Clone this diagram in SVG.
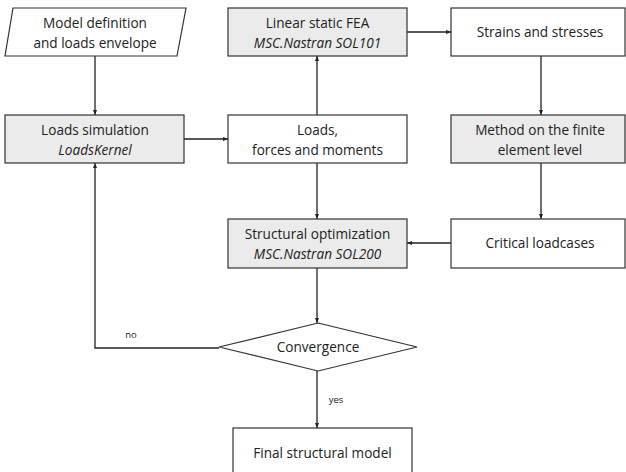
<svg xmlns="http://www.w3.org/2000/svg" width="626" height="472" viewBox="0 0 626 472">
<style>
.box{stroke:#333;stroke-width:1.2;fill:#fff}
.g{fill:#ebebeb}
text{font-family:"Open Sans","Noto Sans",sans-serif;font-size:13.6px;fill:#222;text-anchor:middle}
.i{font-style:italic}
.s{font-size:9.5px}
.c{stroke:#222;stroke-width:1.3;fill:none;marker-end:url(#ah)}
</style>
<defs>
<marker id="ah" viewBox="0 0 10 10" refX="10" refY="5" markerWidth="5" markerHeight="5" orient="auto" markerUnits="userSpaceOnUse">
<path d="M0,1 L10,5 L0,9 z" fill="#222"/>
</marker>
</defs>
<rect width="626" height="472" fill="#fff"/>
<g id="connectors">
<path class="c" d="M95,56 V115"/>
<path class="c" d="M184,139 H228"/>
<path class="c" d="M317,115 V56"/>
<path class="c" d="M407,32 H451"/>
<path class="c" d="M541,56 V115"/>
<path class="c" d="M541,163 V219"/>
<path class="c" d="M451,243 H407"/>
<path class="c" d="M317,163 V219"/>
<path class="c" d="M317,268 V323"/>
<path class="c" d="M219,348 H95 V163"/>
<path class="c" d="M317,371 V428"/>
<text class="s" x="131" y="338">no</text>
<text class="s" x="336" y="403">yes</text>
</g>
<g id="model-definition">
<polygon class="box" points="13,8 186,8 177,56 5,56"/>
<text x="95" y="28">Model definition</text>
<text x="95" y="48">and loads envelope</text>
</g>
<g id="linear-static">
<rect class="box g" x="228" y="8" width="179" height="48"/>
<text x="317.5" y="28">Linear static FEA</text>
<text class="i" x="317.5" y="48">MSC.Nastran SOL101</text>
</g>
<g id="strains">
<rect class="box" x="451" y="8" width="174" height="48"/>
<text x="540" y="37">Strains and stresses</text>
</g>
<g id="loads-simulation">
<rect class="box g" x="5" y="115" width="179" height="48"/>
<text x="95" y="135">Loads simulation</text>
<text class="i" x="95" y="155">LoadsKernel</text>
</g>
<g id="loads">
<rect class="box" x="228" y="115" width="179" height="48"/>
<text x="317.5" y="135">Loads,</text>
<text x="317.5" y="155">forces and moments</text>
</g>
<g id="method">
<rect class="box g" x="451" y="115" width="174" height="48"/>
<text x="540" y="135">Method on the finite</text>
<text x="540" y="155">element level</text>
</g>
<g id="structural-optimization">
<rect class="box g" x="228" y="219" width="179" height="49"/>
<text x="317.5" y="239">Structural optimization</text>
<text class="i" x="317.5" y="259">MSC.Nastran SOL200</text>
</g>
<g id="critical">
<rect class="box" x="451" y="219" width="174" height="49"/>
<text x="540" y="248">Critical loadcases</text>
</g>
<g id="convergence">
<polygon class="box" points="318,323 417,347 318,371 219,347"/>
<text x="318" y="352">Convergence</text>
</g>
<g id="final">
<rect class="box" x="233" y="428" width="179" height="50"/>
<text x="322.5" y="458">Final structural model</text>
</g>
</svg>
